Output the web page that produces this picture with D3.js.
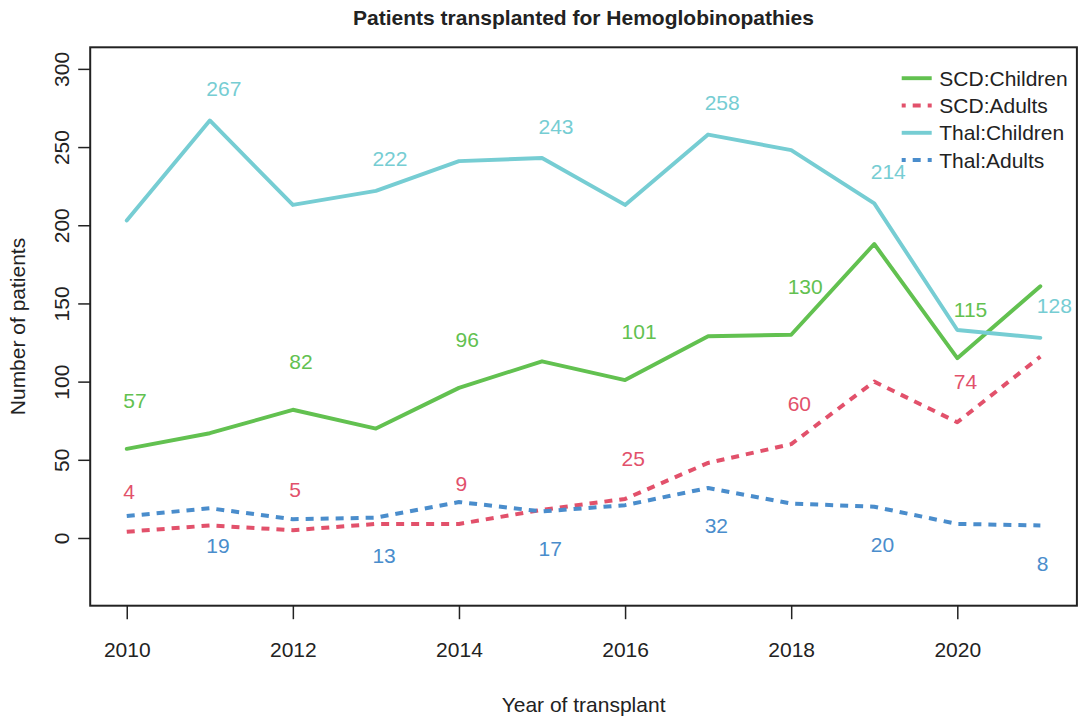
<!DOCTYPE html>
<html>
<head>
<meta charset="utf-8">
<script src="https://cdn.jsdelivr.net/npm/d3@7/dist/d3.min.js"></script>
<style>
  html, body { margin: 0; padding: 0; background: #ffffff; }
  svg { display: block; }
  text { font-family: "Liberation Sans", Arial, Helvetica, sans-serif; }
</style>
</head>
<body>
<svg id="chart" width="1081" height="718"></svg>
<script>
// Hemoglobinopathy transplants per year, by disease and age group
const years = [2010, 2011, 2012, 2013, 2014, 2015, 2016, 2017, 2018, 2019, 2020, 2021];
const scdChildren  = [57, 67, 82, 70, 96, 113, 101, 129, 130, 188, 115, 161];
const scdAdults    = [4, 8, 5, 9, 9, 18, 25, 48, 60, 100, 74, 116];
const thalChildren = [203, 267, 213, 222, 241, 243, 213, 258, 248, 214, 133, 128];
const thalAdults   = [14, 19, 12, 13, 23, 17, 21, 32, 22, 20, 9, 8];

const seriesNames = ["SCD:Children", "SCD:Adults", "Thal:Children", "Thal:Adults"];

// years whose value is printed next to the line
const evenYears = [2010, 2012, 2014, 2016, 2018, 2020];
const oddYears  = [2011, 2013, 2015, 2017, 2019, 2021];

const xTicks = [2010, 2012, 2014, 2016, 2018, 2020];
const yTicks = [0, 50, 100, 150, 200, 250, 300];

const titleText = "Patients transplanted for Hemoglobinopathies";
const xTitle = "Year of transplant";
const yTitle = "Number of patients";

// ---- drawing styles ----
const series = [
  { name: seriesNames[0], values: scdChildren,  labelYears: evenYears, color: "#62c150", dash: null,  labelShift: 31 },
  { name: seriesNames[1], values: scdAdults,    labelYears: evenYears, color: "#e2516b", dash: "8,7", labelShift: 26 },
  { name: seriesNames[2], values: thalChildren, labelYears: oddYears,  color: "#76cdd3", dash: null,  labelShift: 20.5 },
  { name: seriesNames[3], values: thalAdults,   labelYears: oddYears,  color: "#4a8dcc", dash: "8,7", labelShift: -24 }
];

const fontSize = 21;
const ink = "#222222";

const svg = d3.select("#chart");

// plot region, R-style 4% padding around the data range
const x = d3.scaleLinear().domain([2009.56, 2021.44]).range([90.2, 1076.9]);
const y = d3.scaleLinear().domain([-43.3, 313.8]).range([605.7, 47.3]);

const [x0, x1] = x.range();
const [yb, yt] = y.range();

// lines
const line = d3.line()
  .x((d, i) => x(years[i]))
  .y(d => y(d));

const gLines = svg.append("g");
series.forEach(s => {
  gLines.append("path")
    .datum(s.values)
    .attr("d", line)
    .attr("fill", "none")
    .attr("stroke", s.color)
    .attr("stroke-width", s.dash ? 4 : 3.9)
    .attr("stroke-linejoin", "round")
    .attr("stroke-linecap", s.dash ? "butt" : "round")
    .attr("stroke-dasharray", s.dash);
});

// value labels
const gLabels = svg.append("g");
series.forEach(s => {
  s.labelYears.forEach(yr => {
    const v = s.values[years.indexOf(yr)];
    gLabels.append("text")
      .attr("x", x(yr) - 3.5)
      .attr("y", y(v + s.labelShift))
      .attr("dy", "0.36em")
      .attr("text-anchor", "start")
      .attr("font-size", fontSize)
      .attr("fill", s.color)
      .text(v);
  });
});

// plot frame
svg.append("rect")
  .attr("x", x0).attr("y", yt)
  .attr("width", x1 - x0).attr("height", yb - yt)
  .attr("fill", "none")
  .attr("stroke", ink)
  .attr("stroke-width", 2);

// x axis
const xAxis = svg.append("g")
  .attr("transform", `translate(0,${yb})`)
  .call(d3.axisBottom(x).tickValues(xTicks).tickFormat(d3.format("d"))
    .tickSize(13.5).tickPadding(22.5).tickSizeOuter(0));
xAxis.select(".domain").remove();
xAxis.selectAll(".tick line").attr("stroke", ink).attr("stroke-width", 1.5);
xAxis.selectAll(".tick text")
  .attr("font-size", fontSize)
  .attr("font-family", "Liberation Sans, Arial, sans-serif")
  .attr("fill", ink);

// y axis, labels parallel to the axis
const yAxis = svg.append("g")
  .attr("transform", `translate(${x0},0)`)
  .call(d3.axisLeft(y).tickValues(yTicks).tickFormat(d3.format("d"))
    .tickSize(12).tickSizeOuter(0));
yAxis.select(".domain").remove();
yAxis.selectAll(".tick line").attr("stroke", ink).attr("stroke-width", 1.5);
yAxis.selectAll(".tick text")
  .attr("transform", "rotate(-90)")
  .attr("x", 0)
  .attr("y", -21.5)
  .attr("dy", 0)
  .attr("text-anchor", "middle")
  .attr("font-size", fontSize)
  .attr("font-family", "Liberation Sans, Arial, sans-serif")
  .attr("fill", ink);

// titles
svg.append("text")
  .attr("x", (x0 + x1) / 2)
  .attr("y", 25)
  .attr("text-anchor", "middle")
  .attr("font-size", fontSize)
  .attr("font-weight", "bold")
  .attr("fill", ink)
  .text(titleText);

svg.append("text")
  .attr("x", (x0 + x1) / 2)
  .attr("y", 711.5)
  .attr("text-anchor", "middle")
  .attr("font-size", fontSize)
  .attr("fill", ink)
  .text(xTitle);

svg.append("text")
  .attr("transform", `translate(24.5,${(yt + yb) / 2}) rotate(-90)`)
  .attr("text-anchor", "middle")
  .attr("font-size", fontSize)
  .attr("fill", ink)
  .text(yTitle);

// legend
const legend = svg.append("g").attr("transform", "translate(901.7,78.2)");
series.forEach((s, i) => {
  const row = legend.append("g").attr("transform", `translate(0,${i * 27.3})`);
  row.append("line")
    .attr("x1", 0).attr("x2", 30)
    .attr("y1", 0).attr("y2", 0)
    .attr("stroke", s.color)
    .attr("stroke-width", s.dash ? 4 : 3.9)
    .attr("stroke-dasharray", s.dash)
    .attr("stroke-dashoffset", s.dash ? 4 : null);
  row.append("text")
    .attr("x", 37.6)
    .attr("y", 0)
    .attr("dy", "0.36em")
    .attr("font-size", fontSize)
    .attr("fill", ink)
    .text(s.name);
});
</script>
</body>
</html>
